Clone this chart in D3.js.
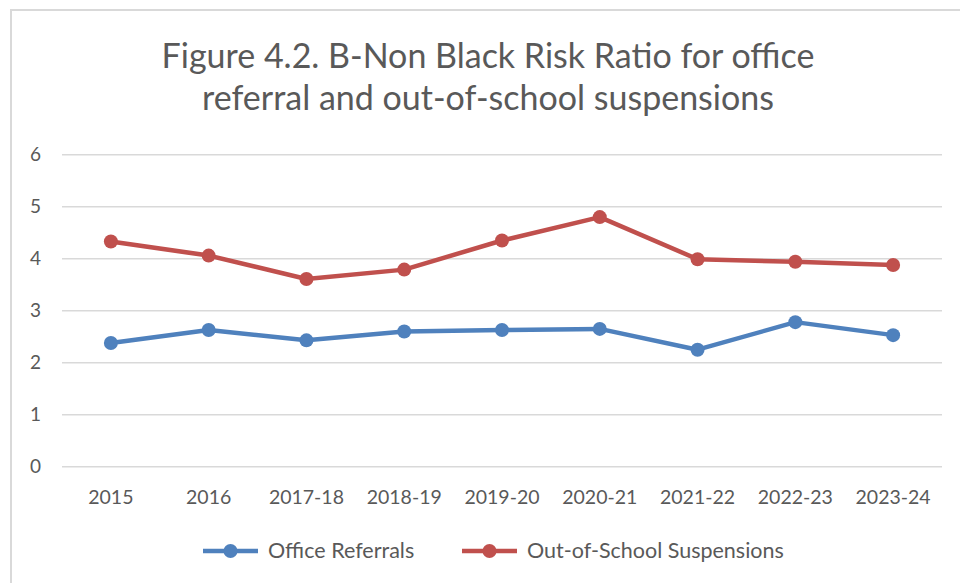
<!DOCTYPE html>
<html>
<head>
<meta charset="utf-8">
<script src="https://cdn.jsdelivr.net/npm/d3@7"></script>
<style>
  body { margin: 0; background: #fff; }
  svg { display: block; }
  text { font-family: Lato, "Open Sans", sans-serif; fill: #595959; }
</style>
</head>
<body>
<svg id="chart" width="960" height="583"></svg>
<script>
const years = ["2015", "2016", "2017-18", "2018-19", "2019-20", "2020-21", "2021-22", "2022-23", "2023-24"];
const officeReferrals = [2.38, 2.63, 2.43, 2.60, 2.63, 2.65, 2.25, 2.78, 2.53];
const suspensions = [4.33, 4.06, 3.61, 3.79, 4.35, 4.80, 3.99, 3.94, 3.88];
const yTicks = [0, 1, 2, 3, 4, 5, 6];
const titleLines = ["Figure 4.2. B-Non Black Risk Ratio for office", "referral and out-of-school suspensions"];

const series = [
  { name: "Office Referrals", values: officeReferrals, color: "#4f81bd" },
  { name: "Out-of-School Suspensions", values: suspensions, color: "#c0504d" }
];

const width = 960, height = 583;
const svg = d3.select("#chart");

// chart frame (only top/left edges visible in the crop)
svg.append("path")
  .attr("d", `M11,${height} V10 H${width}`)
  .attr("fill", "none")
  .attr("stroke", "#d9d9d9")
  .attr("stroke-width", 2);

// title
svg.append("g").selectAll("text")
  .data(titleLines)
  .enter().append("text")
  .attr("x", 488)
  .attr("y", (d, i) => 68 + i * 41.5)
  .attr("text-anchor", "middle")
  .style("font-size", "34px")
  .text(d => d);

const x = d3.scaleBand().domain(years).range([62, 942]);
const y = d3.scaleLinear().domain([0, 6]).range([466.7, 154.7]);

// gridlines
svg.append("g").selectAll("line")
  .data(yTicks)
  .enter().append("line")
  .attr("x1", 62).attr("x2", 942)
  .attr("y1", d => y(d)).attr("y2", d => y(d))
  .attr("stroke", "#d9d9d9")
  .attr("stroke-width", 1.5);

// y labels
svg.append("g").selectAll("text")
  .data(yTicks)
  .enter().append("text")
  .attr("x", 41)
  .attr("y", d => y(d) + 6)
  .attr("text-anchor", "end")
  .style("font-size", "19px")
  .text(d => d);

// x labels
svg.append("g").selectAll("text")
  .data(years)
  .enter().append("text")
  .attr("x", d => x(d) + x.bandwidth() / 2)
  .attr("y", 504)
  .attr("text-anchor", "middle")
  .style("font-size", "19.5px")
  .text(d => d);

const line = d3.line()
  .x((d, i) => x(years[i]) + x.bandwidth() / 2)
  .y(d => y(d));

series.forEach(s => {
  const g = svg.append("g");
  g.append("path")
    .attr("d", line(s.values))
    .attr("fill", "none")
    .attr("stroke", s.color)
    .attr("stroke-width", 4.5)
    .attr("stroke-linejoin", "round");
  g.selectAll("circle")
    .data(s.values)
    .enter().append("circle")
    .attr("cx", (d, i) => x(years[i]) + x.bandwidth() / 2)
    .attr("cy", d => y(d))
    .attr("r", 7)
    .attr("fill", s.color);
});

// legend
const legendX = [203, 462];
const legend = svg.append("g").selectAll("g")
  .data(series)
  .enter().append("g")
  .attr("transform", (d, i) => `translate(${legendX[i]},551)`);
legend.append("line")
  .attr("x1", 0).attr("x2", 55)
  .attr("stroke", d => d.color)
  .attr("stroke-width", 4.5);
legend.append("circle")
  .attr("cx", 27.5).attr("r", 7)
  .attr("fill", d => d.color);
legend.append("text")
  .attr("x", 65)
  .attr("y", 7)
  .style("font-size", "21.5px")
  .text(d => d.name);
</script>
</body>
</html>
